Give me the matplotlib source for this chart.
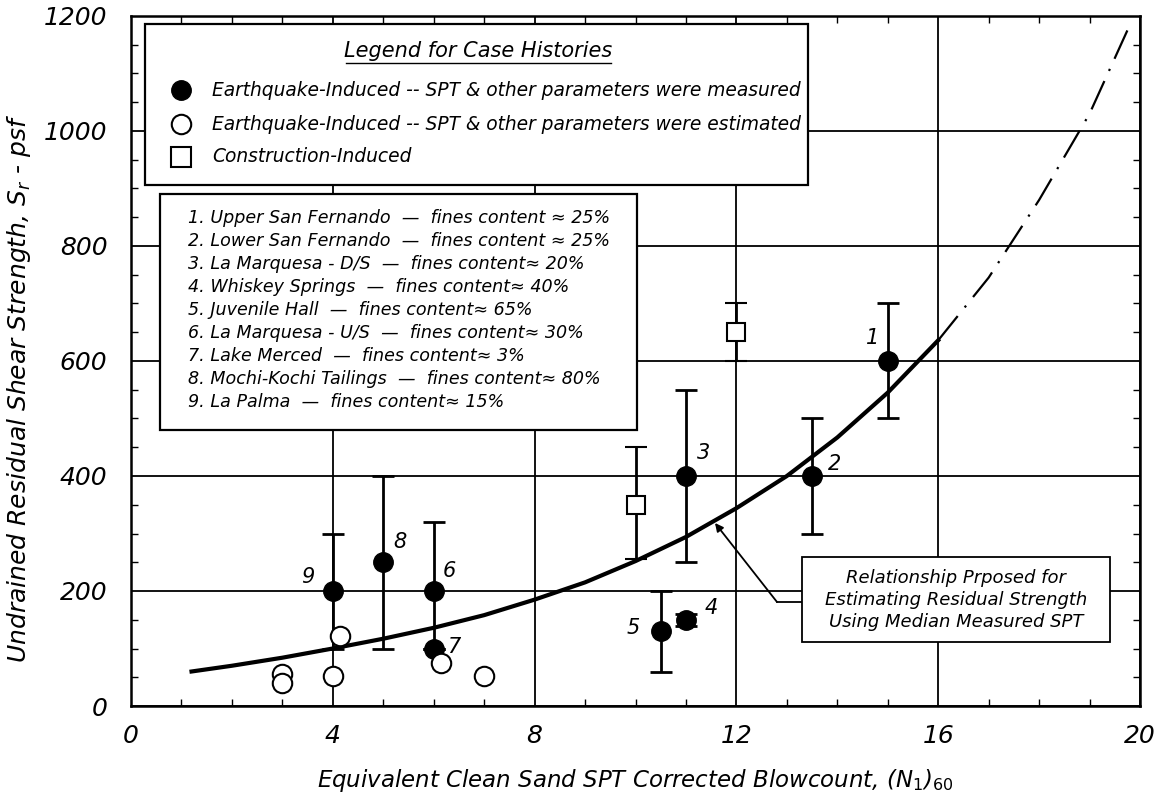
import matplotlib
matplotlib.use("Agg")
import matplotlib.pyplot as plt
from matplotlib.patches import Rectangle
from matplotlib.ticker import MultipleLocator

plt.rcParams['font.family'] = ['DejaVu Sans']

# ---- data ----
# measured earthquake case histories (filled circles)
meas_x = [15, 13.5, 11, 11, 10.5, 6, 6, 5, 4]
meas_y = [600, 400, 400, 150, 130, 200, 100, 250, 200]
meas_lo = [500, 300, 250, 140, 60, 100, 100, 100, 100]
meas_hi = [700, 500, 550, 160, 200, 320, 100, 400, 300]
meas_labels = ['1', '2', '3', '4', '5', '6', '7', '8', '9']
label_x = [14.7, 13.95, 11.35, 11.5, 9.95, 6.3, 6.4, 5.33, 3.5]
label_y = [640, 420, 440, 170, 135, 235, 103, 285, 225]

# estimated earthquake case histories (open circles)
est_x = [3, 3, 4, 4.15, 6.15, 7]
est_y = [55, 40, 52, 122, 75, 52]

# construction-induced (open squares)
con_x = [10, 12]
con_y = [350, 650]
con_lo = [255, 600]
con_hi = [450, 700]

# proposed relationship
curve_x = [1.2, 2, 3, 4, 5, 6, 7, 8, 9, 10, 11, 12, 13, 14, 15, 16]
curve_y = [60, 70, 84, 100, 117, 136, 158, 185, 215, 252, 294, 344, 400, 467, 545, 636]
ext_x = [16, 17, 18, 19, 19.75]
ext_y = [636, 745, 880, 1030, 1175]

case_list = [
    "1. Upper San Fernando  \u2014  fines content \u2248 25%",
    "2. Lower San Fernando  \u2014  fines content \u2248 25%",
    "3. La Marquesa - D/S  \u2014  fines content\u2248 20%",
    "4. Whiskey Springs  \u2014  fines content\u2248 40%",
    "5. Juvenile Hall  \u2014  fines content\u2248 65%",
    "6. La Marquesa - U/S  \u2014  fines content\u2248 30%",
    "7. Lake Merced  \u2014  fines content\u2248 3%",
    "8. Mochi-Kochi Tailings  \u2014  fines content\u2248 80%",
    "9. La Palma  \u2014  fines content\u2248 15%",
]
legend_items = [
    "Earthquake-Induced -- SPT & other parameters were measured",
    "Earthquake-Induced -- SPT & other parameters were estimated",
    "Construction-Induced",
]
xticks = [0, 4, 8, 12, 16, 20]
yticks = [0, 200, 400, 600, 800, 1000, 1200]

# ---- figure ----
fig = plt.figure(figsize=(11.64, 7.94), dpi=100)
ax = fig.add_axes([131/1164, 1-706/794, 1009/1164, 690/794])
ax.set_xlim(0, 20)
ax.set_ylim(0, 1200)
ax.set_xticks(xticks)
ax.set_yticks(yticks)
ax.xaxis.set_minor_locator(MultipleLocator(1))
ax.yaxis.set_minor_locator(MultipleLocator(50))
ax.tick_params(which='both', direction='in', top=True, right=True, color='black')
ax.tick_params(which='major', length=0)
ax.tick_params(axis='y', which='major', pad=17)
ax.tick_params(axis='x', which='major', pad=13)
ax.tick_params(which='minor', length=5, width=1)
for lab in ax.get_xticklabels() + ax.get_yticklabels():
    lab.set_fontstyle('italic')
    lab.set_fontsize(18)
for sp in ax.spines.values():
    sp.set_linewidth(1.8)
ax.grid(True, which='major', color='black', lw=1.3)
ax.set_axisbelow(True)

ax.set_xlabel("Equivalent Clean Sand SPT Corrected Blowcount, (N$_1$)$_{60}$",
              fontsize=16.5, fontstyle='italic', labelpad=14)
ax.set_ylabel("Undrained Residual Shear Strength, S$_r$ - psf",
              fontsize=18, fontstyle='italic')
ax.yaxis.set_label_coords(-0.097, 0.46)

# curve
ax.plot(curve_x, curve_y, color='black', lw=3, zorder=4)
ax.plot(ext_x, ext_y, color='black', lw=1.6, linestyle=(0, (14, 5, 1, 5)), zorder=4)

# error bars + markers
ax.errorbar(meas_x, meas_y,
            yerr=[[y - l for y, l in zip(meas_y, meas_lo)], [h - y for y, h in zip(meas_y, meas_hi)]],
            fmt='o', color='black', ms=14, ecolor='black', elinewidth=2, capsize=8, capthick=2, zorder=5)
ax.errorbar(con_x, con_y,
            yerr=[[y - l for y, l in zip(con_y, con_lo)], [h - y for y, h in zip(con_y, con_hi)]],
            fmt='s', mfc='white', mec='black', mew=1.5, ms=13, ecolor='black', elinewidth=2,
            capsize=8, capthick=2, zorder=5)
ax.plot(est_x, est_y, 'o', mfc='white', mec='black', mew=1.5, ms=14, zorder=6, ls='none')

for t, x, y in zip(meas_labels, label_x, label_y):
    ax.text(x, y, t, fontsize=15, fontstyle='italic', ha='center', va='center', zorder=7)

# legend box 1
T = ax.transAxes
def fx(px):
    return (px - 131) / 1009
def fy(py):
    return (706 - py) / 690

ax.add_patch(Rectangle((fx(145), fy(185)), fx(808) - fx(145), fy(24) - fy(185), transform=T,
                       facecolor='white', edgecolor='black', lw=1.6, zorder=8))
ax.text(fx(478), fy(51), "Legend for Case Histories", transform=T, fontsize=15,
        fontstyle='italic', ha='center', va='center', zorder=9)
ax.plot([fx(346), fx(611)], [fy(63), fy(63)], transform=T, color='black', lw=1, zorder=9)
mk = [dict(marker='o', mfc='black', mec='black', ms=14),
      dict(marker='o', mfc='white', mec='black', ms=14, mew=1.5),
      dict(marker='s', mfc='white', mec='black', ms=14, mew=1.5)]
for i, (txt, py) in enumerate(zip(legend_items, [90, 124, 157])):
    ax.plot([fx(181)], [fy(py)], transform=T, ls='none', zorder=9, clip_on=False, **mk[i])
    ax.text(fx(212), fy(py), txt, transform=T, fontsize=13.4, fontstyle='italic',
            ha='left', va='center', zorder=9)

# legend box 2
ax.add_patch(Rectangle((fx(160), fy(430)), fx(637) - fx(160), fy(194) - fy(430), transform=T,
                       facecolor='white', edgecolor='black', lw=1.6, zorder=8))
for i, txt in enumerate(case_list):
    ax.text(fx(188), fy(218 + 23 * i), txt, transform=T, fontsize=12.6, fontstyle='italic',
            ha='left', va='center', zorder=9)

# annotation box
ax.add_patch(Rectangle((fx(802), fy(642)), fx(1110) - fx(802), fy(557) - fy(642), transform=T,
                       facecolor='white', edgecolor='black', lw=1.3, zorder=8))
ax.text(fx(956), fy(600),
        "Relationship Prposed for\nEstimating Residual Strength\nUsing Median Measured SPT",
        transform=T, fontsize=13, fontstyle='italic', ha='center', va='center',
        linespacing=1.3, zorder=9)
ax.plot([fx(802), fx(777)], [fy(602), fy(602)], transform=T, color='black', lw=1.3, zorder=7)
ax.annotate('', xy=(fx(715), fy(523)), xytext=(fx(777), fy(602)), xycoords=T, textcoords=T,
            arrowprops=dict(arrowstyle='-|>', color='black', lw=1.3, mutation_scale=12,
                            shrinkA=0, shrinkB=0), zorder=7)

fig.savefig("out.png", dpi=100)
